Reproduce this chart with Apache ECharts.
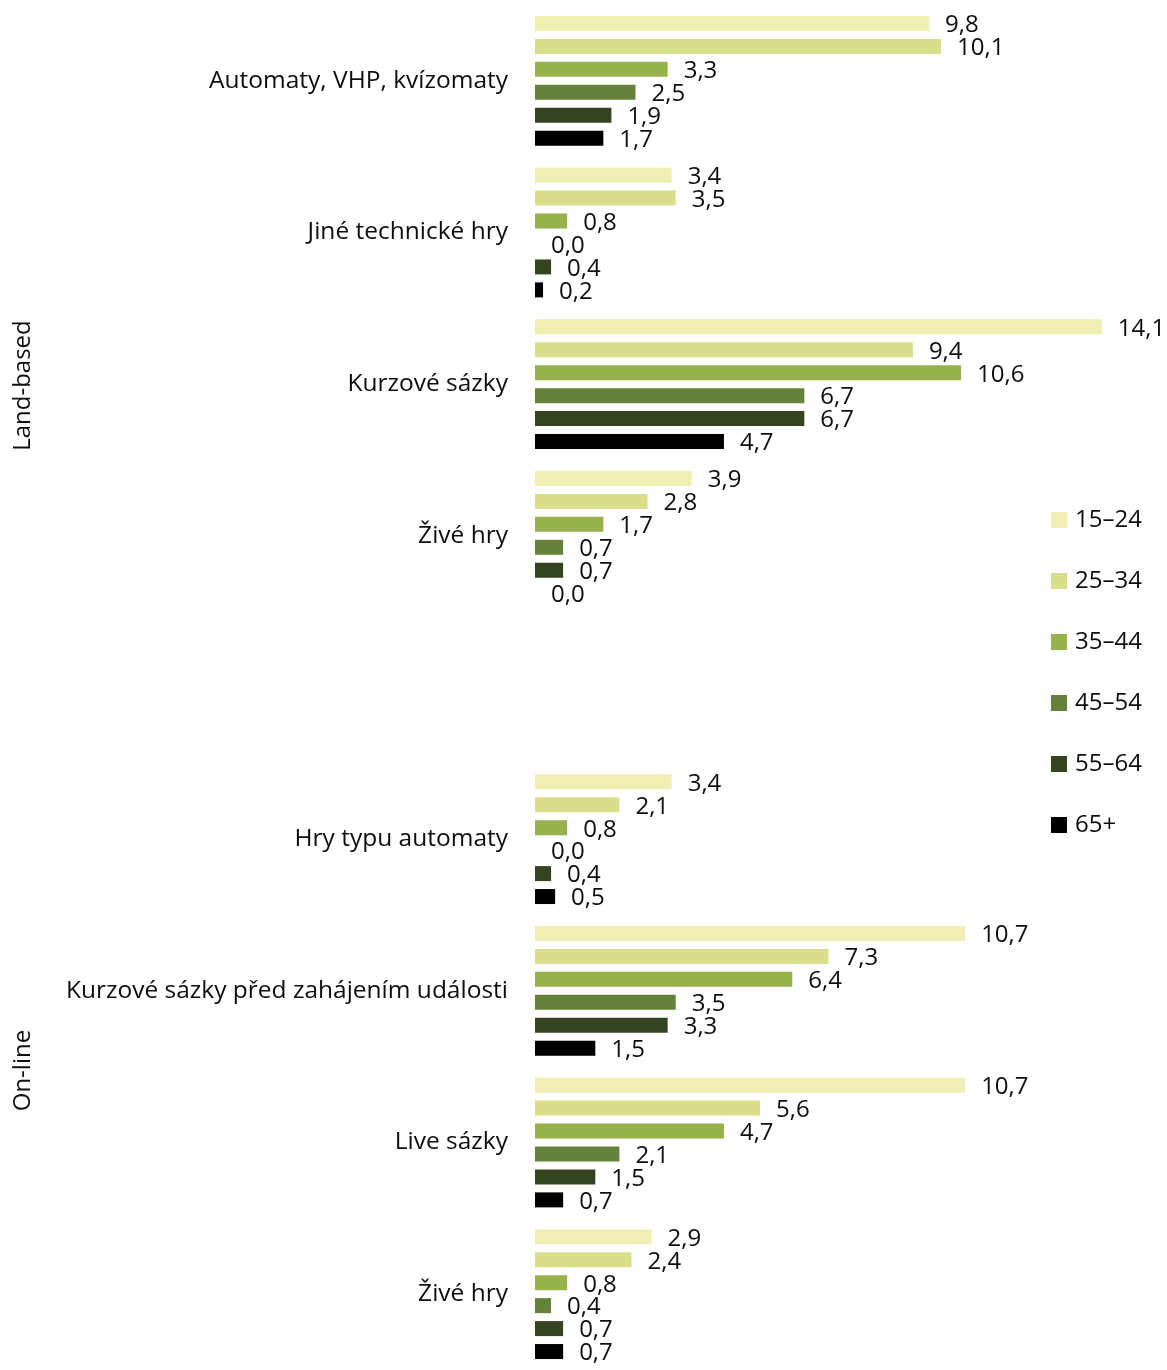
<!DOCTYPE html>
<html>
<head>
<meta charset="utf-8">
<script src="https://cdn.jsdelivr.net/npm/echarts@6/dist/echarts.min.js"></script>
<style>
  html, body { margin: 0; padding: 0; background: #fff; }
  #chart { width: 1167px; height: 1370px; }
</style>
</head>
<body>
<div id="chart"></div>
<script>
// Game categories, top to bottom; the empty entry separates the two groups
const categories = [
  'Automaty, VHP, kvízomaty',
  'Jiné technické hry',
  'Kurzové sázky',
  'Živé hry',
  '',
  'Hry typu automaty',
  'Kurzové sázky před zahájením události',
  'Live sázky',
  'Živé hry'
];

// Age bands
const ageGroups = ['15–24', '25–34', '35–44', '45–54', '55–64', '65+'];

// Share of players per age band (%), one array per band
const age15_24 = [9.8, 3.4, 14.1, 3.9, null, 3.4, 10.7, 10.7, 2.9];
const age25_34 = [10.1, 3.5, 9.4, 2.8, null, 2.1, 7.3, 5.6, 2.4];
const age35_44 = [3.3, 0.8, 10.6, 1.7, null, 0.8, 6.4, 4.7, 0.8];
const age45_54 = [2.5, 0.0, 6.7, 0.7, null, 0.0, 3.5, 2.1, 0.4];
const age55_64 = [1.9, 0.4, 6.7, 0.7, null, 0.4, 3.3, 1.5, 0.7];
const age65plus = [1.7, 0.2, 4.7, 0.0, null, 0.5, 1.5, 0.7, 0.7];

const seriesValues = [age15_24, age25_34, age35_44, age45_54, age55_64, age65plus];
const colors = ['#efefb4', '#d8df8b', '#97b14c', '#64823b', '#344420', '#000000'];

// Group captions and the category ranges they span
const groupNames = ['Land-based', 'On-line'];
const groupSpans = [[0, 4], [5, 8]];

const FONT = '"Open Sans", "Noto Sans", sans-serif';
const TEXT = '#0d0d0d';

const GRID_TOP = 5;
const GRID_H = 1370;

const chart = echarts.init(document.getElementById('chart'), null, { renderer: 'canvas' });

const fmt = v => v.toFixed(1).replace('.', ',');

const option = {
  backgroundColor: '#ffffff',
  animation: false,
  textStyle: { fontFamily: FONT },
  grid: { left: 535, top: GRID_TOP, width: 603, height: GRID_H, containLabel: false },
  xAxis: {
    type: 'value',
    min: 0,
    max: 15,
    show: false
  },
  yAxis: {
    type: 'category',
    data: categories,
    inverse: true,
    axisLine: { show: false },
    axisTick: { show: false },
    splitLine: { show: false },
    axisLabel: {
      margin: 27,
      fontSize: 24.5,
      color: TEXT,
      fontFamily: FONT,
      padding: [4, 0, 0, 0]
    }
  },
  legend: {
    orient: 'vertical',
    left: 1046,
    top: 503,
    itemWidth: 16,
    itemHeight: 16,
    itemGap: 37,
    icon: 'rect',
    data: ageGroups,
    textStyle: { fontSize: 24, color: TEXT, fontFamily: FONT, padding: [0, 0, 0, 3] }
  },
  series: ageGroups.map((name, i) => ({
    name: name,
    type: 'bar',
    data: seriesValues[i],
    barWidth: 15,
    barGap: '53%',
    itemStyle: { color: colors[i] },
    label: {
      show: true,
      position: 'right',
      distance: 16,
      offset: [0, 2],
      fontSize: 24,
      color: TEXT,
      fontFamily: FONT,
      formatter: p => fmt(p.value)
    }
  }))
};

chart.setOption(option);

// Rotated group captions centred on the categories they cover
const band = GRID_H / categories.length;
chart.setOption({
  graphic: groupNames.map((g, i) => {
    const yTop = GRID_TOP + groupSpans[i][0] * band;
    const yBot = GRID_TOP + (groupSpans[i][1] + 1) * band;
    return {
      type: 'text',
      x: 23,
      y: (yTop + yBot) / 2,
      rotation: Math.PI / 2,
      style: {
        text: g,
        fontSize: 24,
        fontFamily: FONT,
        fill: TEXT,
        align: 'center',
        verticalAlign: 'middle'
      }
    };
  })
});
</script>
</body>
</html>
